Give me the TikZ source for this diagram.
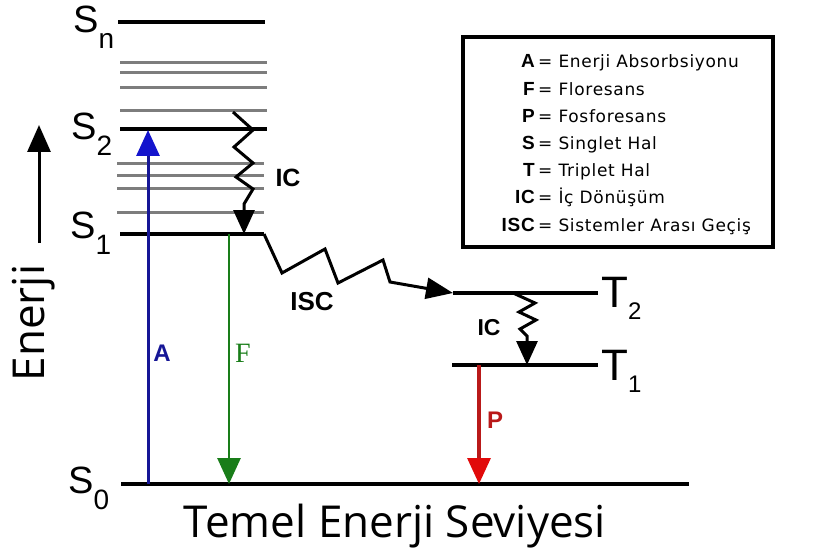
\documentclass[tikz,border=0pt]{standalone}
\usepackage{fontspec}
\setmainfont{Liberation Sans}
\newfontfamily\capfont{Open Sans}
\newfontfamily\legfont[LetterSpace=4]{DejaVu Sans}
\newfontfamily\keyfont[LetterSpace=4]{Liberation Sans}
\newfontfamily\flufont{Liberation Serif}
\usetikzlibrary{arrows.meta}
\definecolor{AbsBlue}{RGB}{22,22,150}
\definecolor{AbsTip}{RGB}{20,20,205}
\definecolor{FluGreen}{RGB}{25,125,25}
\definecolor{PhosRed}{RGB}{185,25,25}
\definecolor{PhosTip}{RGB}{225,10,10}
\definecolor{SubGray}{RGB}{125,125,125}

% state labels: letter + lowered index
\newcommand{\slbl}[2]{{\fontsize{38}{38}\selectfont #1}\raisebox{-16pt}{\fontsize{28}{28}\selectfont #2}}
\newcommand{\tlbl}[2]{{\fontsize{44}{44}\selectfont #1}\raisebox{-12pt}{\fontsize{24}{24}\selectfont #2}}

\begin{document}
\begin{tikzpicture}[
    x=1pt, y=-1pt,
    level/.style={line width=3.4pt},
    sublevel/.style={line width=3pt, SubGray},
    zig/.style={line width=3pt, -{Triangle[length=24pt, width=21pt]}},
    absorb/.style={line width=3pt, AbsBlue, -{Triangle[length=26pt, width=23pt, color=AbsTip]}},
    fluor/.style={line width=2.8pt, FluGreen, -{Triangle[length=26pt, width=23pt]}},
    phos/.style={line width=3.2pt, PhosRed, -{Triangle[length=26pt, width=23pt, color=PhosTip]}},
    lbl/.style={inner sep=0pt, anchor=base west},
    tag/.style={inner sep=0pt, font=\fontsize{25}{25}\selectfont\bfseries}
]
\useasboundingbox (0,0) rectangle (816,556);

% Singlet levels
\coordinate (snl) at (118,22);  \coordinate (snr) at (265,22);
\coordinate (s2l) at (120,129); \coordinate (s2r) at (267,129);
\coordinate (s1l) at (120,234); \coordinate (s1r) at (264,234);
\coordinate (s0l) at (121,484); \coordinate (s0r) at (689,484);
\draw[level] (snl) -- (snr);
\draw[level] (s2l) -- (s2r);
\draw[level] (s1l) -- (s1r);
\draw[level] (s0l) -- (s0r);
\foreach \yy in {63,73,88,111}
    \draw[sublevel] (120,\yy) -- (267,\yy);
\foreach \yy in {164,176,189,212}
    \draw[sublevel] (117,\yy) -- (264,\yy);

% Triplet levels
\coordinate (t2l) at (453,293); \coordinate (t2r) at (598,293);
\coordinate (t1l) at (452,365); \coordinate (t1r) at (598,365);
\draw[level] (t2l) -- (t2r);
\draw[level] (t1l) -- (t1r);

% Level names
\node[lbl] (snname) at (73,33)  {\slbl{S}{n}};
\node[lbl] (s2name) at (71,140) {\slbl{S}{2}};
\node[lbl] (s1name) at (70,238) {\slbl{S}{1}};
\node[lbl] (s0name) at (68,493) {\slbl{S}{0}};
\node[lbl] (t2name) at (601,307) {\tlbl{T}{2}};
\node[lbl] (t1name) at (601,380) {\tlbl{T}{1}};

% Radiative transitions
\coordinate (absbot) at (148,484); \coordinate (abstop) at (148,130);
\coordinate (flutop) at (229,234); \coordinate (flubot) at (229,484);
\coordinate (phostop) at (479,365); \coordinate (phosbot) at (479,484);
\draw[absorb] (absbot) -- (abstop);
\draw[fluor] (flutop) -- (flubot);
\draw[phos] (phostop) -- (phosbot);
\node[font=\fontsize{24}{24}\selectfont\bfseries, text=AbsBlue, inner sep=0pt] (alabel) at (162,353) {A};
\node[font=\flufont\fontsize{28}{28}\selectfont, text=FluGreen, inner sep=0pt] (flabel) at (243,353) {F};
\node[font=\fontsize{24}{24}\selectfont\bfseries, text=PhosRed, inner sep=0pt] (plabel) at (495,420) {P};

% Non-radiative transitions
\coordinate (ic1s) at (233,112); \coordinate (ic1e) at (244,234);
\draw[zig] (ic1s) -- ++(20,18) -- ++(-19,17) -- ++(19,16) -- ++(-17,14)
    -- ++(17,12) -- ++(-9,15) -- (ic1e);
\node[tag] (ic1label) at (288,178) {IC};

\draw[zig, -{Triangle[length=27pt, width=21pt]}] (s1r) -- (282,273) -- (325,249)
    -- (338,283) -- (383,260) -- (390,282) -- (t2l);
\node[tag, font=\fontsize{26}{26}\selectfont\bfseries] (isclabel) at (312,302) {ISC};

\coordinate (ic2s) at (513,293); \coordinate (ic2e) at (527,365);
\draw[zig] (ic2s) -- (535,303) -- (519,312) -- (536,320) -- (520,329)
    -- (527,336) -- (ic2e);
\node[tag, font=\fontsize{23}{23}\selectfont\bfseries] (ic2label) at (489,328) {IC};

% Energy axis
\coordinate (enbot) at (39,243); \coordinate (entop) at (39,125);
\draw[line width=3pt, -{Triangle[length=27pt, width=23pt]}] (enbot) -- (entop);
\node[rotate=90, font=\capfont\fontsize{44}{44}\selectfont, inner sep=0pt] (enlabel) at (34,323) {Enerji};
\node[font=\capfont\fontsize{44}{44}\selectfont, inner sep=0pt, anchor=base] (ground) at (395,537) {Temel Enerji Seviyesi};

% Legend
\node[draw, line width=3.4pt, minimum width=310pt, minimum height=210pt, inner sep=0pt] (legend) at (618,142) {};
\foreach \k/\d [count=\i] in {A/Enerji Absorbsiyonu, F/Floresans, P/Fosforesans,
    S/Singlet Hal, T/Triplet Hal, IC/İç Dönüşüm, ISC/Sistemler Arası Geçiş} {
    \node[inner sep=0pt, anchor=base east, font=\keyfont\bfseries\fontsize{19}{19}\selectfont]
        (key\i) at (535,{68+(\i-1)*27.2}) {\k};
    \node[inner sep=0pt, anchor=base west, font=\legfont\fontsize{17}{17}\selectfont]
        (desc\i) at (538,{68+(\i-1)*27.2}) {= \d};
}

\end{tikzpicture}
\end{document}
